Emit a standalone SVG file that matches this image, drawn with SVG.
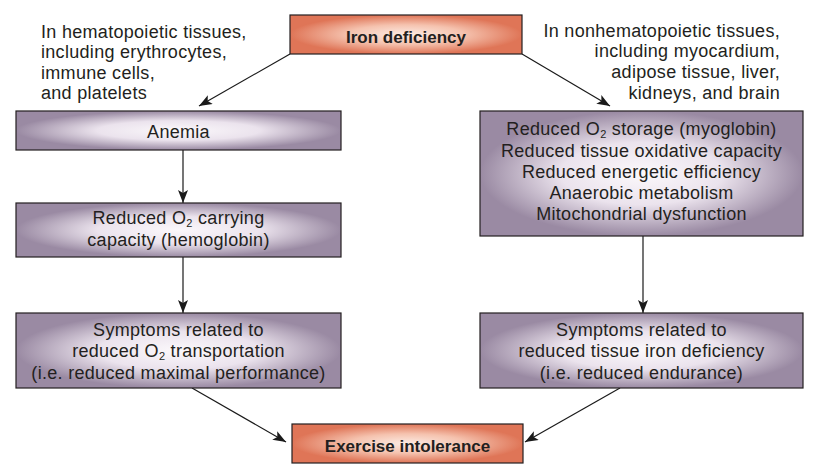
<svg xmlns="http://www.w3.org/2000/svg" width="818" height="471" viewBox="0 0 818 471">
<defs>
<radialGradient id="gp" cx="0.5" cy="0.5" r="0.5">
<stop offset="0" stop-color="#fbf8fb"/>
<stop offset="0.5" stop-color="#ebe3ed"/>
<stop offset="1" stop-color="#9a8aa3"/>
</radialGradient>
<radialGradient id="go" cx="0.5" cy="0.5" r="0.5">
<stop offset="0" stop-color="#fcebe3"/>
<stop offset="0.5" stop-color="#f5c2ae"/>
<stop offset="1" stop-color="#df7557"/>
</radialGradient>
<marker id="ah" markerUnits="userSpaceOnUse" markerWidth="14" markerHeight="10" refX="13" refY="5" orient="auto">
<path d="M0,0 L13,5 L0,10 L3,5 Z" fill="#1a1a1a"/>
</marker>
</defs>
<style>
.t{font-family:"Liberation Sans",Arial,sans-serif;font-size:18px;letter-spacing:0.3px;fill:#231f20}
.c{text-anchor:middle}
.r{text-anchor:end}
.b{font-weight:bold;font-size:17px;letter-spacing:0}
.bp{fill:url(#gp);stroke:#231f20;stroke-width:1.2}
.bo{fill:url(#go);stroke:#231f20;stroke-width:1.2}
.ln{stroke:#1a1a1a;stroke-width:1.2;fill:none;marker-end:url(#ah)}
.s{font-size:11px}
</style>
<rect width="818" height="471" fill="#ffffff"/>
<g id="note-left">
<text class="t" x="41" y="38">In hematopoietic tissues,</text>
<text class="t" x="41" y="58">including erythrocytes,</text>
<text class="t" x="41" y="79">immune cells,</text>
<text class="t" x="41" y="99">and platelets</text>
</g>
<g id="note-right">
<text class="t r" x="780" y="37">In nonhematopoietic tissues,</text>
<text class="t r" x="780" y="57">including myocardium,</text>
<text class="t r" x="780" y="78">adipose tissue, liver,</text>
<text class="t r" x="780" y="99">kidneys, and brain</text>
</g>
<g id="connectors">
<line class="ln" x1="290" y1="54" x2="199" y2="106"/>
<line class="ln" x1="522" y1="54" x2="610" y2="106"/>
<line class="ln" x1="183" y1="150" x2="183" y2="203"/>
<line class="ln" x1="183" y1="257" x2="183" y2="313"/>
<line class="ln" x1="643" y1="236" x2="643" y2="313"/>
<line class="ln" x1="192" y1="388" x2="286" y2="442"/>
<line class="ln" x1="620" y1="388" x2="525" y2="442"/>
</g>
<g id="iron-deficiency">
<rect class="bo" x="290" y="15" width="232" height="39"/>
<text class="t c b" x="406" y="43">Iron deficiency</text>
</g>
<g id="anemia">
<rect class="bp" x="16" y="111" width="325" height="39"/>
<text class="t c" x="178.5" y="138">Anemia</text>
</g>
<g id="reduced-o2-carrying">
<rect class="bp" x="16" y="203" width="325" height="54"/>
<text class="t c" x="178.5" y="224">Reduced O<tspan class="s" dy="3">2</tspan><tspan dy="-3"> carrying</tspan></text>
<text class="t c" x="178.5" y="246">capacity (hemoglobin)</text>
</g>
<g id="symptoms-left">
<rect class="bp" x="16" y="313" width="325" height="75"/>
<text class="t c" x="178.5" y="336">Symptoms related to</text>
<text class="t c" x="178.5" y="357">reduced O<tspan class="s" dy="3">2</tspan><tspan dy="-3"> transportation</tspan></text>
<text class="t c" x="178.5" y="379">(i.e. reduced maximal performance)</text>
</g>
<g id="tissue-effects">
<rect class="bp" x="480" y="111" width="323" height="125"/>
<text class="t c" x="641.5" y="135">Reduced O<tspan class="s" dy="3">2</tspan><tspan dy="-3"> storage (myoglobin)</tspan></text>
<text class="t c" x="641.5" y="157">Reduced tissue oxidative capacity</text>
<text class="t c" x="641.5" y="178">Reduced energetic efficiency</text>
<text class="t c" x="641.5" y="199">Anaerobic metabolism</text>
<text class="t c" x="641.5" y="220">Mitochondrial dysfunction</text>
</g>
<g id="symptoms-right">
<rect class="bp" x="480" y="313" width="323" height="75"/>
<text class="t c" x="641.5" y="336">Symptoms related to</text>
<text class="t c" x="641.5" y="357">reduced tissue iron deficiency</text>
<text class="t c" x="641.5" y="379">(i.e. reduced endurance)</text>
</g>
<g id="exercise-intolerance">
<rect class="bo" x="292" y="424" width="231" height="39"/>
<text class="t c b" x="407.5" y="452">Exercise intolerance</text>
</g>
</svg>
